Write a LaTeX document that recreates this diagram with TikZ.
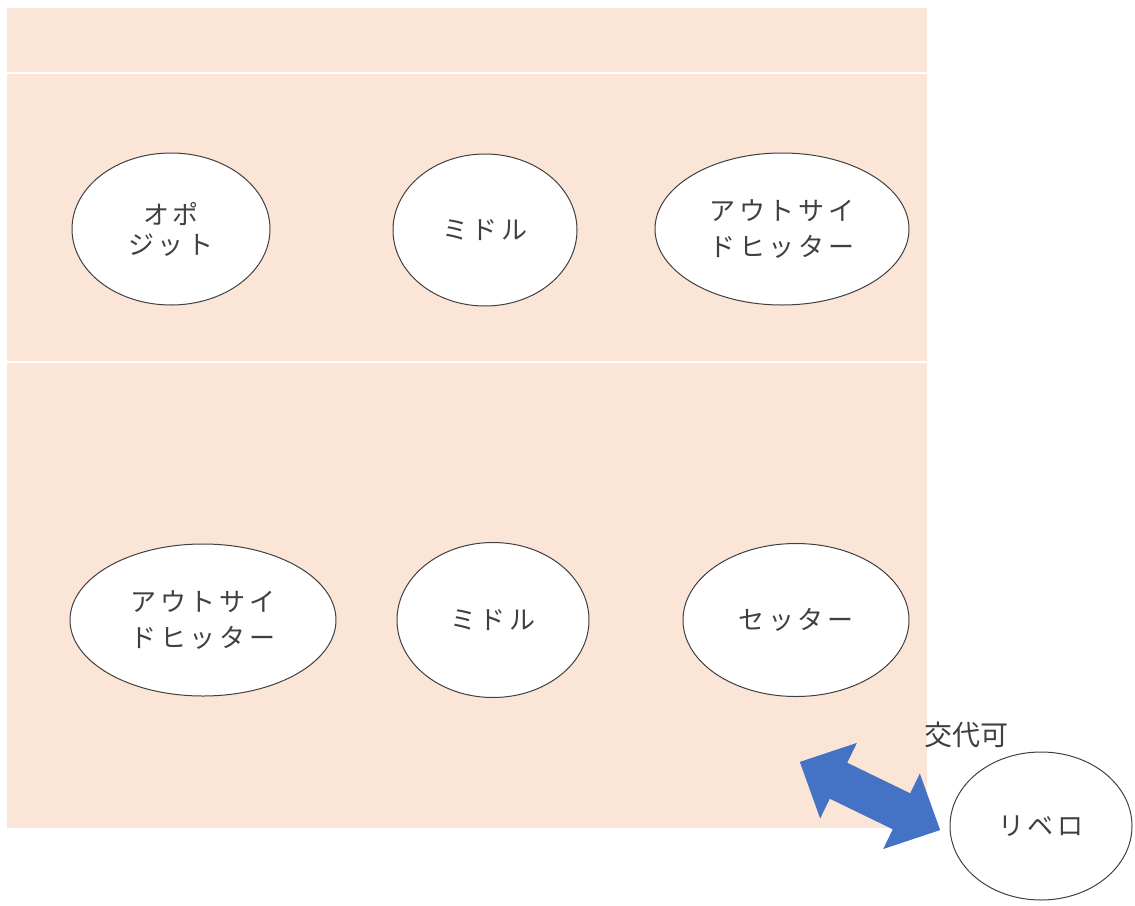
\documentclass[tikz,border=0pt]{standalone}
\usepackage{fontspec}
\usetikzlibrary{shapes.geometric}
\newfontfamily\jp{Noto Sans CJK JP}[LetterSpace=15]
\newfontfamily\jpn{Noto Sans CJK JP}
\definecolor{peach}{HTML}{FBE5D6}
\definecolor{arrowblue}{HTML}{4472C4}
\definecolor{txt}{HTML}{404040}
\begin{document}
\begin{tikzpicture}[x=1pt,y=-1pt,
  posbox/.style={ellipse, draw=black!75, line width=1pt, fill=white, inner sep=0pt,
    text=txt, align=center, font=\jp\fontsize{26}{36}\selectfont},
  sepline/.style={white, line width=2.5pt},
  blockarrow/.style={fill=arrowblue, draw=none}
]
\useasboundingbox (0,0) rectangle (1135,905);
\fill[peach] (7,8) rectangle (927,828);
\draw[sepline] (7,73) -- (927,73);
\draw[sepline] (7,362) -- (927,362);

\node[posbox, minimum width=198pt, minimum height=152pt, font=\jp\fontsize{26}{30}\selectfont] (opp) at (171,229) {オポ\\ジット};
\node[posbox, minimum width=184pt, minimum height=152pt] (mid1) at (485,230) {ミドル};
\node[posbox, minimum width=254pt, minimum height=152pt] (ohT) at (782,229) {アウトサイ\\ドヒッター};
\node[posbox, minimum width=266pt, minimum height=152pt] (ohB) at (203,620) {アウトサイ\\ドヒッター};
\node[posbox, minimum width=192pt, minimum height=155pt] (mid2) at (493,620) {ミドル};
\node[posbox, minimum width=226pt, minimum height=153pt] (set) at (796,620) {セッター};
\node[posbox, minimum width=182pt, minimum height=148pt] (lib) at (1041,826) {リベロ};

\node[text=txt, font=\jpn\fontsize{28}{28}\selectfont, inner sep=0pt] (swap) at (966,735) {交代可};

\begin{scope}[shift={(870,796)}, rotate=-25.9]
\fill[blockarrow] (-78,0) -- (-35,-42) -- (-35,-20) -- (35,-20) -- (35,-42) -- (78,0)
  -- (35,42) -- (35,20) -- (-35,20) -- (-35,42) -- cycle;
\end{scope}
\end{tikzpicture}
\end{document}
